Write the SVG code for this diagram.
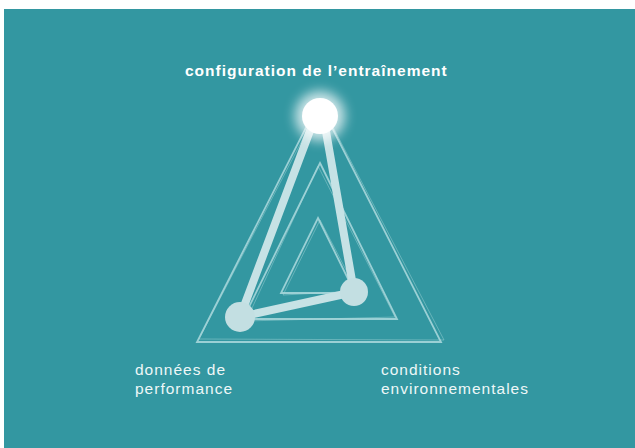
<svg xmlns="http://www.w3.org/2000/svg" width="635" height="448" viewBox="0 0 635 448">
<defs>
<style>
.tri{fill:none;stroke:#a6d6da;stroke-width:1.8;stroke-linejoin:miter;opacity:0.9}
.tri2{fill:none;stroke:#a6d6da;stroke-width:1;opacity:0.45}
.edge{stroke:#c6e2e5;stroke-width:8;stroke-linecap:round;fill:none}
.node{fill:#c3dfe2}
.lbl{font-family:"Liberation Sans",Arial,sans-serif;font-size:15.5px;fill:#eef7f8;letter-spacing:1px}
.title{font-family:"Liberation Sans",Arial,sans-serif;font-size:15.5px;font-weight:bold;fill:#ffffff;letter-spacing:1px}
</style>
<filter id="glow" x="-100%" y="-100%" width="300%" height="300%">
<feGaussianBlur stdDeviation="6"/>
</filter>
</defs>
<rect x="4" y="9" width="631" height="439" fill="#3397a1"/>
<g id="triangles">
<polygon class="tri" points="319,102 441,342 197,342"/>
<polygon class="tri2" points="321,104 444,340 199,339"/>
<polygon class="tri" points="320,163 397,319 243,319"/>
<polygon class="tri2" points="318,166 395,317 246,321"/>
<polygon class="tri" points="318,218 355,293 281,293"/>
<polygon class="tri2" points="320,220 357,291 283,295"/>
</g>
<g id="connectors">
<line class="edge" x1="314" y1="120" x2="240" y2="317"/>
<line class="edge" x1="324" y1="120" x2="354" y2="292"/>
<line class="edge" x1="240" y1="317" x2="354" y2="292"/>
</g>
<g id="node-config">
<circle cx="320" cy="116" r="25" fill="#ffffff" opacity="0.75" filter="url(#glow)"/>
<circle cx="320" cy="116" r="18" fill="#ffffff"/>
<text class="title" x="185" y="76">configuration de l’entraînement</text>
</g>
<g id="node-performance">
<circle class="node" cx="240" cy="317" r="15"/>
<text class="lbl" x="135" y="375">données de</text>
<text class="lbl" x="135" y="394">performance</text>
</g>
<g id="node-conditions">
<circle class="node" cx="354" cy="292" r="14"/>
<text class="lbl" x="381" y="375">conditions</text>
<text class="lbl" x="381" y="394">environnementales</text>
</g>
</svg>
